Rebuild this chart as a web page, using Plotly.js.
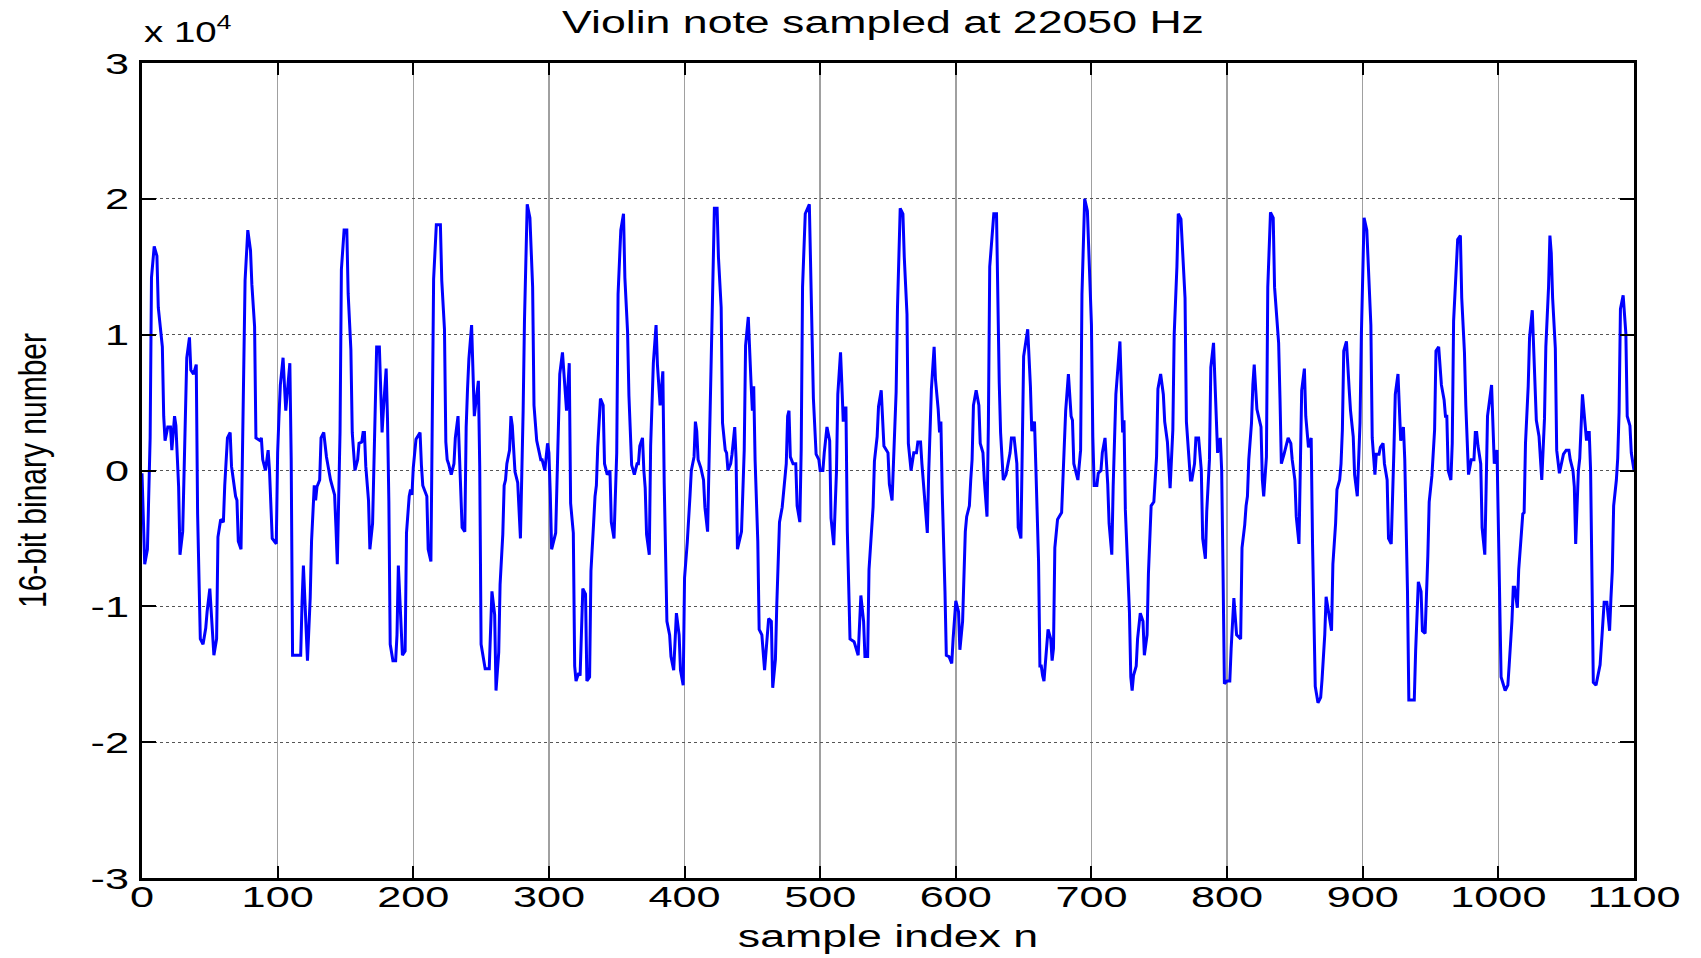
<!DOCTYPE html>
<html>
<head>
<meta charset="utf-8">
<script src="https://cdn.plot.ly/plotly-3.0.1.min.js"></script>
<style>html,body{margin:0;padding:0;background:#fff;}</style>
</head>
<body>
<div id="chart" style="width:1701px;height:958px;"></div>
<script>
// Vertices of the waveform: sample index n and 16-bit value
const sampleIndex = [
0,2,4,6,7,9,11,12,15,16,17,19,21,22,24,25,27,28,30,31,32,33,35,36,38,40,41,43,45,46,47,48,50,53,55,56,58,60,61,63,65,66,68,69,70,71,73,74,75,76,78,80,81,83,84,87,88,89,91,93,94,96,99,
100,101,102,104,105,106,109,110,111,114,117,118,119,122,124,125,127,128,129,131,132,134,136,
139,142,143,144,146,147,149,151,152,154,155,157,159,160,162,163,164,165,167,168,170,171,172,173,175,176,177,178,180,181,182,183,185,187,188,189,192,194,195,197,198,199,
200,202,205,206,207,210,211,213,214,215,217,220,221,223,224,225,226,228,230,231,233,234,235,236,238,239,240,241,243,244,245,248,249,250,253,256,258,260,261,263,264,266,267,268,269,271,272,273,274,275,277,
278,279,281,282,284,286,288,289,291,294,295,297,299,300,301,302,305,306,307,308,310,311,312,313,315,316,318,319,320,322,323,325,327,328,330,331,333,334,335,336,338,340,341,343,345,346,348,350,351,353,355,356,358,359,361,363,365,366,367,369,370,371,372,374,375,376,377,379,380,382,384,385,387,389,390,392,394,396,397,399,
400,402,403,404,405,407,408,409,410,412,
414,415,417,419,420,422,424,425,427,428,430,431,432,434,435,437,438,439,442,443,444,445,447,449,450,451,452,454,455,457,459,462,464,465,467,468,469,470,472,473,475,476,477,478,480,482,483,485,486,487,489,492,493,494,495,497,499,
500,502,503,505,507,508,510,511,512,513,515,516,517,518,519,520,522,525,528,530,532,533,535,536,537,538,539,540,542,543,545,547,
550,551,553,556,557,559,561,562,564,565,567,569,571,572,574,575,577,579,580,581,582,584,585,587,588,589,590,592,593,595,597,598,
600,602,603,605,606,607,608,610,611,612,613,615,617,618,620,621,623,624,625,627,628,630,631,632,633,635,637,640,641,643,645,646,648,649,650,653,655,656,658,659,661,662,663,664,665,668,670,671,672,673,675,678,679,680,681,683,685,
686,687,690,692,693,695,697,698,700,701,702,704,705,707,708,710,711,712,713,715,716,717,718,721,722,723,724,725,728,729,730,731,733,734,736,738,739,741,742,743,744,746,747,748,749,751,753,754,756,757,758,760,761,763,764,766,767,769,770,772,773,774,776,777,779,781,782,784,785,787,788,790,792,793,795,796,797,798,
800,802,803,805,807,810,811,813,814,815,816,818,819,820,822,
825,826,827,829,830,832,834,835,838,839,840,842,845,847,848,850,851,853,854,855,857,858,860,862,863,865,867,869,870,872,873,875,877,878,880,881,883,884,885,886,888,890,891,893,894,896,898,899,
901,903,904,906,907,909,910,912,913,915,916,918,919,921,923,924,926,927,928,930,931,933,934,938,939,941,943,944,946,948,949,951,952,953,954,956,958,
960,961,962,963,965,966,967,970,972,973,975,976,977,978,980,982,983,984,985,987,988,990,991,992,995,996,997,999,
1000,1002,1005,1007,1008,1010,1011,1012,1014,1015,1017,1018,1019,1020,1022,1023,1025,1027,1028,1030,1031,1032,1034,1035,1037,1038,1039,1040,1042,1043,1045,1047,1048,1050,1052,1053,1055,1056,1057,1059,1060,1062,1063,1065,1066,1067,1068,1069,1070,1072,1075,1076,1078,1080,1082,1083,1084,1085,1087,1088,1089,1090,1092,1094,1095,1097,1098,1100
];
const amplitude = [
-200,-6900,-5800,2400,14200,16500,15800,12000,9100,4000,2200,3200,3200,1500,4000,3300,-1200,-6200,-4500,0,2800,8300,9800,7400,7100,7800,-3200,-12400,-12800,-12100,-11600,-10400,-8700,-13600,-12400,-4900,-3600,-3800,-1100,2400,2800,300,-1100,-1900,-2200,-5200,-5800,1000,7300,14000,17700,16200,13700,10600,2400,2200,2400,800,0,1500,0,-5000,-5400,
1300,4000,6300,8300,6100,4400,7900,800,-13600,-13600,-13600,-9700,-7000,-14000,-9400,-5200,-1100,-2200,-1200,-700,2400,2800,1000,
-700,-1800,-4200,-6900,2800,14800,17700,17700,13000,8900,2800,0,800,2000,2100,2800,2800,300,-2200,-5800,-3900,500,4400,9100,9100,5500,2800,4500,7500,3800,-2300,-12800,-14000,-14000,-12100,-7000,-13600,-13300,-4600,-1900,-1400,-1800,
200,2300,2800,400,-1100,-1900,-5800,-6700,1500,14100,18100,18100,14000,10400,2100,800,500,-300,500,2400,4000,1500,-1000,-4200,-4500,3200,6000,8200,10700,8000,4000,6600,300,-12800,-14600,-14600,-8900,-10600,-16200,-13400,-8400,-4700,-1100,-700,500,1500,4000,3300,1300,-100,-900,
-3600,-5000,4400,11100,19600,18600,13500,4800,2200,800,800,0,2000,1300,-1700,-5800,-4600,-900,1400,7100,8700,7100,5700,4400,7900,-2400,-4600,-14400,-15500,-14900,-15100,-8700,-9100,-15500,-15200,-7400,-3800,-1900,-1100,1700,5300,4800,500,-300,0,-3800,-5000,1300,13000,17700,18900,14200,10200,5500,400,-300,500,500,1800,2400,0,-1300,-4700,-6200,1800,5400,7900,10700,7800,4800,7300,-900,-11100,-12100,-13700,-14700,-10500,-12100,-14700,-15800,
-7900,-5300,-3000,-1900,0,1000,3600,2900,800,200,
-700,-2700,-4500,4500,11100,19300,19300,15700,12000,3500,1500,1300,0,500,1200,3200,800,-5800,-4500,-900,1500,9200,11300,6500,4400,6200,800,-5200,-11700,-12100,-14700,-10900,-11100,-16000,-13900,-9900,-7200,-3800,-2700,-1400,500,4000,4400,1000,500,500,-2600,-3800,1500,13500,18900,19600,14900,10100,5300,1200,800,
0,0,1300,3200,2200,-3500,-5500,-2700,-100,5600,8700,6300,3600,4600,4600,-4400,-12400,-12600,-13600,-9200,-11100,-13700,-13700,-7300,-5500,-3800,-2700,700,2500,4700,5900,1800,
1300,-1000,-2200,5800,12000,19300,18900,15700,11500,2000,0,1300,1300,2100,2100,500,-2300,-4600,-200,2800,6000,9100,6700,4500,2800,3600,-1700,-8900,-13600,-13700,-14200,-12400,
-9600,-10400,-13200,-11100,-6900,-4500,-3400,-2600,-700,800,4800,5900,4800,2000,1300,-700,-3400,3300,15000,17800,18900,18900,12000,6500,2800,-700,-300,1300,2400,2400,500,-4200,-5000,3000,8400,10400,6200,2900,3600,300,-6700,-14400,-14400,-15100,-15500,-11700,-12400,-14000,-13100,-5700,-3600,-3100,-200,2200,4400,7100,4000,
3700,500,-700,1500,13000,20000,19100,16700,10700,2500,-1100,-1100,-200,0,1300,2400,800,-1000,-3900,-6200,-1200,2800,5600,9500,6000,2800,3700,-2900,-10400,-15200,-16200,-15100,-14400,-12400,-10500,-11100,-13600,-12100,-7600,-4200,-2600,-2300,-700,1000,6000,7100,5600,3600,2100,0,-1300,3000,10000,15000,18900,18500,16500,12700,3600,500,-700,-700,500,2400,2400,0,-5000,-6500,-3000,800,7600,9400,4600,1300,2400,0,-7400,-15700,
-15500,-15500,-13100,-9400,-12100,-12400,-5700,-4000,-2600,-1900,800,3500,6300,7800,4500,
3200,-700,-1900,1000,13500,19000,18600,13500,9400,5300,500,1200,2400,2000,800,-700,-3400,-5400,0,5900,7500,4000,1700,2400,-5400,-15900,-17100,-16700,-15400,-12100,-9300,-10400,-11800,-6900,-3900,-1400,-700,500,3000,8800,9500,6000,4400,2500,-300,-1900,3500,10000,
18600,17700,15000,10700,2400,-300,1200,1200,1700,2000,500,-700,-5000,-5400,1500,5600,7100,4800,2200,3200,800,-8900,-16900,-16900,-13300,-8200,-8900,-11800,-12000,-6300,-2300,-400,1300,3000,8800,9100,6300,
5200,4000,4000,0,-700,2000,11000,17000,17300,12700,8700,4800,2200,-300,800,800,2800,2800,1800,500,-4200,-6200,-1200,4000,6300,4000,500,1500,
-5200,-15200,-16200,-15800,-14300,-11100,-8600,-8600,-10100,-7300,-4600,-3200,-3100,2000,6200,9800,11800,7000,3700,2500,400,-700,3800,9100,13500,17300,16000,12700,9000,1500,-200,900,1200,1500,1500,800,0,-1200,-5400,0,900,5600,4300,2200,2800,2800,0,-7300,-15600,-15800,-14300,-12800,-9700,-9700,-11800,-9400,-7400,-2600,-700,900,4300,11900,12900,10100,4000,3300,1300,0
];

const xTickVals = [0,100,200,300,400,500,600,700,800,900,1000,1100];
const yTickVals = [-30000,-20000,-10000,0,10000,20000,30000];
const yTickText = ['-3','-2','-1','0','1','2','3'];
const chartTitle = 'Violin note sampled at 22050 Hz';
const xTitle = 'sample index n';
const yTitle = '16-bit binary number';
const yExponent = 'x 10<sup>4</sup>';

const n = Math.min(sampleIndex.length, amplitude.length);

const FONT = 'Liberation Sans, Arial, Helvetica, sans-serif';
const STRETCH = 1.44; // the reference's lettering is drawn wide

const trace = {
  x: sampleIndex.slice(0, n),
  y: amplitude.slice(0, n),
  type: 'scatter',
  mode: 'lines',
  line: {color: '#0000ff', width: 3},
  hoverinfo: 'x+y'
};

const layout = {
  width: 1701,
  height: 958,
  margin: {l: 142, r: 67, t: 63, b: 80, pad: 0},
  paper_bgcolor: '#ffffff',
  plot_bgcolor: '#ffffff',
  showlegend: false,
  font: {family: FONT, color: '#000000', size: 30},
  title: {
    text: chartTitle,
    font: {family: FONT, size: 31, color: '#000000'},
    x: 883/1701, xref: 'container', xanchor: 'center',
    y: 1 - 22/958, yref: 'container', yanchor: 'middle'
  },
  xaxis: {
    range: [0, 1100],
    tickvals: xTickVals,
    ticktext: xTickVals.map(String),
    ticks: 'inside', ticklen: 12, tickwidth: 2, tickcolor: '#000000',
    showline: true, linecolor: '#000000', linewidth: 3, mirror: 'ticks',
    showgrid: true, gridcolor: '#a0a0a0', gridwidth: 1.5,
    zeroline: false,
    tickfont: {family: FONT, size: 30, color: '#000000'},
    ticklabelstandoff: -10,
    title: {text: xTitle, font: {family: FONT, size: 31, color: '#000000'}, standoff: 14}
  },
  yaxis: {
    range: [-30000, 30000],
    tickvals: yTickVals,
    ticktext: yTickText,
    ticks: 'inside', ticklen: 14, tickwidth: 2, tickcolor: '#000000',
    showline: true, linecolor: '#000000', linewidth: 3, mirror: 'ticks',
    showgrid: true, gridcolor: '#555555', gridwidth: 1, griddash: 'dot',
    zeroline: false,
    tickfont: {family: FONT, size: 30, color: '#000000'},
    ticklabelstandoff: 4,
    title: {text: yTitle, font: {family: FONT, size: 30, color: '#000000'}, standoff: 50}
  },
  annotations: [{
    text: yExponent,
    xref: 'paper', yref: 'paper', x: 0, y: 1,
    xanchor: 'left', yanchor: 'bottom', yshift: 13,
    showarrow: false,
    font: {family: FONT, size: 30, color: '#000000'}
  }]
};

function widen(el, f) {
  const w = el.getComputedTextLength();
  if (!w) return 0;
  el.setAttribute('lengthAdjust', 'spacingAndGlyphs');
  el.setAttribute('textLength', (w * f).toFixed(2));
  return w * (f - 1);
}

Plotly.newPlot('chart', [trace], layout, {displayModeBar: false, staticPlot: true}).then(function (gd) {
  gd.querySelectorAll('g.xtick text, g.ytick text, text.gtitle, text.xtitle').forEach(function (el) {
    widen(el, STRETCH);
  });
  // exponent label: keep its left edge in place while widening
  gd.querySelectorAll('text.annotation-text').forEach(function (el) {
    const extra = widen(el, 1.28);
    const old = el.getAttribute('transform') || '';
    el.setAttribute('transform', 'translate(' + (extra / 2).toFixed(2) + ',0) ' + old);
  });
  // rotated y title: widen the glyphs across the text direction
  gd.querySelectorAll('text.ytitle').forEach(function (el) {
    const r = el.getBoundingClientRect();
    const svgR = el.ownerSVGElement.getBoundingClientRect();
    const cx = r.left - svgR.left + r.width / 2;
    const old = el.getAttribute('transform') || '';
    el.setAttribute('transform', 'translate(' + cx + ',0) scale(1.3,1) translate(' + (-cx) + ',0) ' + old);
  });
});
</script>
</body>
</html>
